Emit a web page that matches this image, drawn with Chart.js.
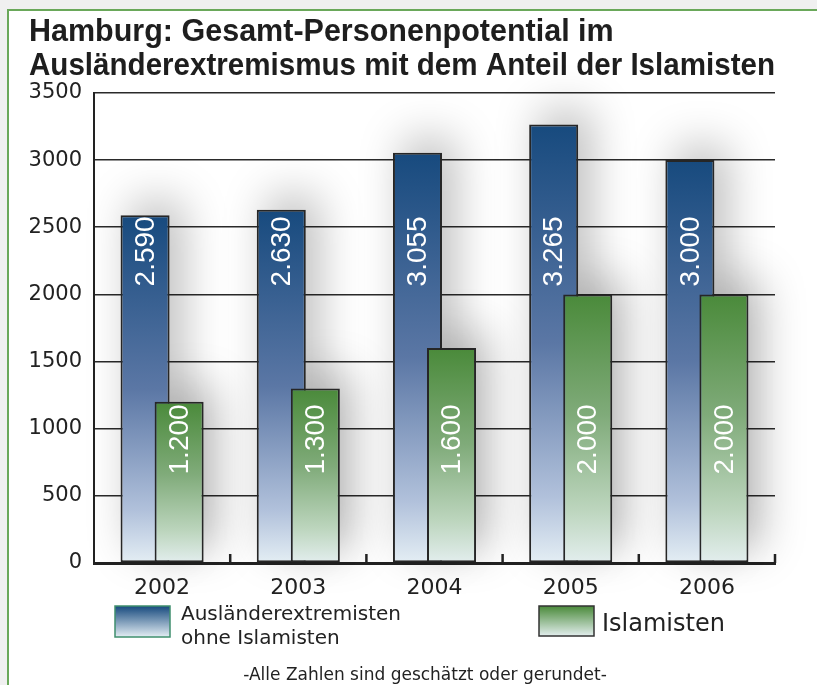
<!DOCTYPE html>
<html>
<head>
<meta charset="utf-8">
<script src="https://cdn.jsdelivr.net/npm/chart.js@4"></script>
<style>
  html, body { margin: 0; padding: 0; background: #fff; }
  #wrap { width: 817px; height: 685px; }
</style>
</head>
<body>
<div id="wrap"><canvas id="hamburgChart" width="817" height="685"></canvas></div>
<script>
const years = ["2002", "2003", "2004", "2005", "2006"];
const auslaender = [2590, 2630, 3055, 3265, 3000];
const islamisten = [1200, 1300, 1600, 2000, 2000];
const seriesLabels = [["Ausländerextremisten", "ohne Islamisten"], ["Islamisten"]];
const yTicks = [0, 500, 1000, 1500, 2000, 2500, 3000, 3500];
const titleLines = ["Hamburg: Gesamt-Personenpotential im", "Ausländerextremismus mit dem Anteil der Islamisten"];
const footnote = "-Alle Zahlen sind geschätzt oder gerundet-";

const blueStops = [[0, '#174a7e'], [0.5, '#5b77a5'], [0.85, '#b1c1db'], [1, '#e4eef4']];
const greenStops = [[0, '#4a8a3a'], [0.45, '#80ab7a'], [0.8, '#bcd5bd'], [1, '#e3eeee']];

Chart.defaults.font.family = "'DejaVu Sans', sans-serif";
Chart.defaults.color = '#222';

function barGradient(context, stops) {
    const chart = context.chart;
    const { ctx, chartArea, scales } = chart;
    if (!chartArea || context.type !== 'data') return stops[0][1];
    const top = scales.y.getPixelForValue(context.parsed.y);
    const bottom = scales.y.getPixelForValue(0);
    const g = ctx.createLinearGradient(0, top, 0, bottom);
    stops.forEach(s => g.addColorStop(s[0], s[1]));
    return g;
}

function formatDe(v) {
    return String(v).replace(/\B(?=(\d{3})+(?!\d))/g, '.');
}

// page frame: grey margin with thin green edge
const framePlugin = {
    id: 'frame',
    beforeDraw(chart) {
        const ctx = chart.ctx;
        ctx.save();
        ctx.fillStyle = '#f0f0f0';
        ctx.fillRect(0, 0, chart.width, chart.height);
        ctx.fillStyle = '#ffffff';
        ctx.fillRect(8, 10, chart.width, chart.height);
        ctx.strokeStyle = '#6aa85a';
        ctx.lineWidth = 2;
        ctx.beginPath();
        ctx.moveTo(8, chart.height);
        ctx.lineTo(8, 10);
        ctx.lineTo(chart.width, 10);
        ctx.stroke();
        ctx.restore();
    }
};

// soft shadow behind all bars, drawn before the bars themselves
const shadowPlugin = {
    id: 'barShadow',
    beforeDatasetsDraw(chart) {
        const ctx = chart.ctx;
        const shift = 5000;
        ctx.save();
        ctx.shadowColor = 'rgba(0,0,0,0.28)';
        ctx.shadowBlur = 45;
        ctx.shadowOffsetX = 12 + shift;
        ctx.shadowOffsetY = -14;
        ctx.fillStyle = '#000';
        chart.data.datasets.forEach((ds, i) => {
            chart.getDatasetMeta(i).data.forEach(el => {
                const p = el.getProps(['x', 'y', 'base', 'width'], true);
                ctx.fillRect(p.x - p.width / 2 - shift, p.y, p.width, p.base - p.y);
            });
        });
        ctx.restore();
    },
    // chart.js paints the first dataset last; hold the green bars back so they sit on top
    beforeDatasetDraw(chart, args) {
        if (args.index === 1) return false;
    },
    afterDatasetDraw(chart, args) {
        if (args.index === 0) chart.getDatasetMeta(1).controller.draw();
    }
};

// rotated value labels, small axis ticks, legend and footnote
const decorPlugin = {
    id: 'decor',
    afterDatasetsDraw(chart) {
        const { ctx, chartArea, scales } = chart;
        const labelAt = [2320, 920];
        ctx.save();
        ctx.fillStyle = '#ffffff';
        ctx.font = "28px 'Liberation Sans', Arial, sans-serif";
        ctx.textAlign = 'center';
        ctx.textBaseline = 'middle';
        chart.data.datasets.forEach((ds, i) => {
            chart.getDatasetMeta(i).data.forEach((el, j) => {
                ctx.save();
                ctx.translate(el.x + 1, scales.y.getPixelForValue(labelAt[i]));
                ctx.rotate(-Math.PI / 2);
                ctx.fillText(formatDe(ds.data[j]), 0, 0);
                ctx.restore();
            });
        });

        // category boundary ticks pointing up from the x axis
        const step = (chartArea.right - chartArea.left) / years.length;
        ctx.strokeStyle = '#222';
        ctx.lineWidth = 2.5;
        for (let i = 1; i <= years.length; i++) {
            const x = chartArea.left + step * i;
            ctx.beginPath();
            ctx.moveTo(x, chartArea.bottom);
            ctx.lineTo(x, chartArea.bottom - 9);
            ctx.stroke();
        }
        ctx.restore();
    },
    afterDraw(chart) {
        const ctx = chart.ctx;
        ctx.save();
        const swatches = [
            { x: 115, y: 606, w: 55, h: 31, stops: blueStops, border: '#3f8f6e' },
            { x: 539, y: 606, w: 55, h: 30, stops: greenStops, border: '#333333' }
        ];
        swatches.forEach(s => {
            const g = ctx.createLinearGradient(0, s.y, 0, s.y + s.h);
            g.addColorStop(0, s.stops[0][1]);
            g.addColorStop(1, s.stops[s.stops.length - 1][1]);
            ctx.fillStyle = g;
            ctx.fillRect(s.x, s.y, s.w, s.h);
            ctx.strokeStyle = s.border;
            ctx.lineWidth = 1.5;
            ctx.strokeRect(s.x, s.y, s.w, s.h);
        });
        ctx.fillStyle = '#222';
        ctx.textAlign = 'left';
        ctx.textBaseline = 'alphabetic';
        ctx.font = "20px 'DejaVu Sans', sans-serif";
        ctx.fillText(seriesLabels[0][0], 181, 620);
        ctx.fillText(seriesLabels[0][1], 181, 644);
        ctx.font = "24px 'DejaVu Sans', sans-serif";
        ctx.fillText(seriesLabels[1][0], 602, 631);
        ctx.font = "17px 'DejaVu Sans', sans-serif";
        ctx.textAlign = 'center';
        ctx.fillText(footnote, 425, 680);
        ctx.restore();
    }
};

const ctx = document.getElementById('hamburgChart').getContext('2d');

new Chart(ctx, {
    type: 'bar',
    data: {
        labels: years,
        datasets: [{
            label: seriesLabels[0].join(' '),
            data: auslaender,
            backgroundColor: c => barGradient(c, blueStops),
            borderColor: '#262626',
            borderWidth: 2,
            borderSkipped: false,
            categoryPercentage: 0.5,
            barPercentage: 1.44
        }, {
            label: seriesLabels[1][0],
            data: islamisten,
            backgroundColor: c => barGradient(c, greenStops),
            borderColor: '#262626',
            borderWidth: 2,
            borderSkipped: false,
            categoryPercentage: 0.5,
            barPercentage: 1.44
        }]
    },
    options: {
        responsive: false,
        animation: false,
        layout: { padding: { left: 29, right: 42, top: 0, bottom: 82 } },
        plugins: {
            legend: { display: false },
            tooltip: { enabled: false },
            title: {
                display: true,
                text: titleLines,
                align: 'start',
                color: '#1e1e1e',
                font: { family: "'Liberation Sans', Arial, sans-serif", size: 30.5, weight: 'bold', lineHeight: 1.13 },
                padding: { top: 15, bottom: 9 }
            }
        },
        scales: {
            x: {
                grid: { display: true, drawOnChartArea: false, drawTicks: false },
                border: { display: true, color: '#222', width: 3 },
                ticks: { font: { size: 22 }, color: '#222', padding: 12 },
                afterFit: s => { s.height = 40; }
            },
            y: {
                min: 0,
                max: 3500,
                afterBuildTicks: s => { s.ticks = yTicks.map(v => ({ value: v })); },
                grid: { color: '#2a2a2a', lineWidth: 1.5, drawTicks: false },
                border: { display: true, color: '#222', width: 2 },
                ticks: { font: { size: 21 }, color: '#222', padding: 12, callback: v => String(v) },
                afterFit: s => { s.width = 65; }
            }
        }
    },
    plugins: [framePlugin, shadowPlugin, decorPlugin]
});
</script>
</body>
</html>
